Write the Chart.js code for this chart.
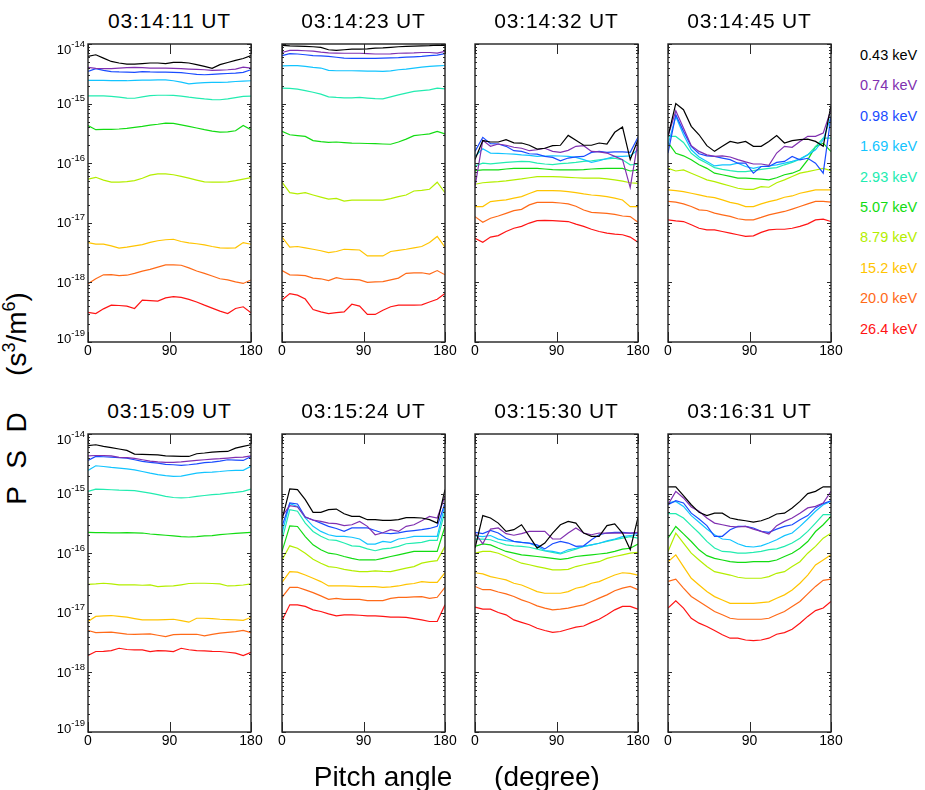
<!DOCTYPE html>
<html>
<head>
<meta charset="utf-8">
<script src="https://cdn.jsdelivr.net/npm/chart.js@4/dist/chart.umd.min.js"></script>
<style>
  body { margin: 0; background: #fff; width: 925px; height: 790px; position: relative; overflow: hidden;
         font-family: "Liberation Sans", Arial, Helvetica, sans-serif; color: #000; }
  canvas { position: absolute; }
  .ttl { position: absolute; font-size: 21px; letter-spacing: 0.8px; transform: translate(-50%, -50%); white-space: nowrap; }
  .leg { position: absolute; font-size: 14.5px; transform: translateY(-50%); white-space: nowrap; }
  .ax { position: absolute; font-size: 28px; line-height: 28px; white-space: nowrap; transform: translate(-50%, -50%); }
  .rot { transform: translate(-50%, -50%) rotate(-90deg); }
  .sup { font-size: 18px; position: relative; top: -11px; }
</style>
</head>
<body>
<script>
// pitch angle bins (deg)
const angles = [0, 8.6, 17.1, 25.7, 34.3, 42.9, 51.4, 60, 68.6, 77.1, 85.7, 94.3, 102.9, 111.4, 120, 128.6, 137.1, 145.7, 154.3, 162.9, 171.4, 180];
const energies = ['0.43 keV', '0.74 keV', '0.98 keV', '1.69 keV', '2.93 keV', '5.07 keV', '8.79 keV', '15.2 keV', '20.0 keV', '26.4 keV'];
const lineColors = ['#000000', '#8030b0', '#1a4cff', '#12c4ff', '#22ecb0', '#12dc12', '#b4ee00', '#ffc400', '#ff6a18', '#ff1414'];
const times = ['03:14:11 UT', '03:14:23 UT', '03:14:32 UT', '03:14:45 UT', '03:15:09 UT', '03:15:24 UT', '03:15:30 UT', '03:16:31 UT'];
const xTickVals = [0, 90, 180];
const yDecadeExps = [-19, -18, -17, -16, -15, -14];
const yMinorMults = [2, 3, 4, 5, 6, 7, 8, 9];

// PSD (s^3/m^6), one row per energy, one column per pitch angle
const psd_031411 = [
  [6.2e-15,6.6e-15,5.8e-15,5.1e-15,4.8e-15,4.6e-15,4.6e-15,4.7e-15,4.8e-15,4.8e-15,4.7e-15,4.9e-15,4.9e-15,4.8e-15,4.5e-15,4.2e-15,3.9e-15,4.5e-15,4.9e-15,5.3e-15,5.7e-15,6.4e-15],
  [4.05e-15,3.9e-15,3.85e-15,3.85e-15,3.95e-15,4.0e-15,4.05e-15,4.0e-15,3.95e-15,3.95e-15,3.95e-15,3.9e-15,3.85e-15,3.8e-15,3.75e-15,3.7e-15,3.6e-15,3.65e-15,3.7e-15,3.8e-15,4.1e-15,3.95e-15],
  [3.47e-15,3.85e-15,3.6e-15,3.45e-15,3.4e-15,3.38e-15,3.35e-15,3.45e-15,3.4e-15,3.38e-15,3.38e-15,3.34e-15,3.3e-15,3.2e-15,3.1e-15,3.05e-15,3.1e-15,3.16e-15,3.2e-15,3.25e-15,3.34e-15,3.7e-15],
  [2.45e-15,2.45e-15,2.45e-15,2.43e-15,2.42e-15,2.42e-15,2.45e-15,2.47e-15,2.48e-15,2.5e-15,2.5e-15,2.42e-15,2.3e-15,2.15e-15,2.2e-15,2.25e-15,2.27e-15,2.27e-15,2.3e-15,2.35e-15,2.38e-15,2.42e-15],
  [1.35e-15,1.35e-15,1.35e-15,1.32e-15,1.28e-15,1.24e-15,1.23e-15,1.3e-15,1.36e-15,1.38e-15,1.38e-15,1.37e-15,1.33e-15,1.28e-15,1.24e-15,1.2e-15,1.17e-15,1.16e-15,1.2e-15,1.26e-15,1.32e-15,1.33e-15],
  [4.3e-16,3.65e-16,3.7e-16,3.7e-16,3.75e-16,3.85e-16,4.0e-16,4.15e-16,4.35e-16,4.5e-16,4.7e-16,4.65e-16,4.4e-16,4.15e-16,3.9e-16,3.65e-16,3.45e-16,3.33e-16,3.35e-16,3.5e-16,4.3e-16,3.65e-16],
  [5.4e-17,5.8e-17,5.2e-17,4.8e-17,4.8e-17,4.9e-17,5.1e-17,5.6e-17,6.3e-17,6.6e-17,6.6e-17,6.4e-17,6.0e-17,5.6e-17,5.2e-17,4.85e-17,4.8e-17,4.8e-17,4.85e-17,5.1e-17,5.4e-17,5.75e-17],
  [4.66e-18,4.4e-18,4.4e-18,4.1e-18,3.75e-18,3.9e-18,4.1e-18,4.3e-18,4.7e-18,5.0e-18,5.2e-18,5.3e-18,4.85e-18,4.6e-18,4.45e-18,4.25e-18,4.0e-18,3.8e-18,3.75e-18,3.8e-18,4.66e-18,4.36e-18],
  [9.5e-19,1.15e-18,1.34e-18,1.35e-18,1.3e-18,1.32e-18,1.42e-18,1.55e-18,1.65e-18,1.8e-18,1.97e-18,1.97e-18,1.94e-18,1.75e-18,1.55e-18,1.42e-18,1.28e-18,1.15e-18,1.1e-18,1.02e-18,9.6e-19,1.1e-18],
  [3.13e-19,3.0e-19,3.6e-19,4.15e-19,4.1e-19,4.0e-19,3.65e-19,5.05e-19,4.95e-19,4.85e-19,5.5e-19,5.75e-19,5.6e-19,5.2e-19,4.7e-19,4.15e-19,3.7e-19,3.3e-19,3.0e-19,3.65e-19,3.9e-19,3.1e-19]
];
const psd_031423 = [
  [9.5e-15,9.3e-15,9.2e-15,9.1e-15,9.0e-15,8.8e-15,8.0e-15,7.8e-15,8.0e-15,8.2e-15,8.2e-15,8.3e-15,8.5e-15,8.6e-15,8.8e-15,9.0e-15,9.1e-15,9.2e-15,9.3e-15,9.4e-15,9.6e-15,9.5e-15],
  [7.2e-15,7.8e-15,7.8e-15,7.7e-15,7.6e-15,7.3e-15,7.1e-15,7.05e-15,7.0e-15,7.0e-15,7.0e-15,6.9e-15,6.8e-15,6.8e-15,6.85e-15,7.0e-15,7.05e-15,7.1e-15,7.2e-15,7.2e-15,7.05e-15,7.5e-15],
  [6.4e-15,6.9e-15,6.8e-15,6.6e-15,6.4e-15,6.3e-15,6.2e-15,6.0e-15,5.8e-15,5.75e-15,5.75e-15,5.75e-15,5.75e-15,5.8e-15,5.85e-15,5.9e-15,6.0e-15,6.1e-15,6.2e-15,6.4e-15,6.5e-15,6.9e-15],
  [4.3e-15,4.35e-15,4.35e-15,4.2e-15,4.05e-15,3.95e-15,3.6e-15,3.56e-15,3.56e-15,3.56e-15,3.55e-15,3.5e-15,3.5e-15,3.47e-15,3.55e-15,3.7e-15,3.8e-15,3.95e-15,4.1e-15,4.2e-15,4.3e-15,4.36e-15],
  [1.82e-15,1.8e-15,1.75e-15,1.65e-15,1.55e-15,1.44e-15,1.3e-15,1.27e-15,1.25e-15,1.25e-15,1.27e-15,1.24e-15,1.21e-15,1.2e-15,1.3e-15,1.4e-15,1.5e-15,1.6e-15,1.65e-15,1.7e-15,1.82e-15,1.77e-15],
  [3.42e-16,3.0e-16,2.9e-16,2.82e-16,2.39e-16,2.3e-16,2.24e-16,2.27e-16,2.22e-16,2.18e-16,2.16e-16,2.14e-16,2.13e-16,2.1e-16,2.08e-16,2.27e-16,2.54e-16,2.9e-16,3.0e-16,3.1e-16,3.42e-16,3.1e-16],
  [4.8e-17,3.2e-17,3.05e-17,3.2e-17,2.93e-17,2.7e-17,2.5e-17,2.57e-17,2.32e-17,2.4e-17,2.4e-17,2.4e-17,2.4e-17,2.4e-17,2.55e-17,2.75e-17,2.93e-17,3.42e-17,3.5e-17,3.65e-17,4.8e-17,3.2e-17],
  [5.75e-18,3.9e-18,4.0e-18,3.8e-18,3.6e-18,3.4e-18,3.16e-18,3.3e-18,3.6e-18,3.55e-18,3.5e-18,2.78e-18,2.78e-18,2.78e-18,3.3e-18,3.45e-18,3.6e-18,3.8e-18,4.0e-18,4.66e-18,5.9e-18,3.9e-18],
  [1.58e-18,1.34e-18,1.32e-18,1.3e-18,1.18e-18,1.15e-18,1.07e-18,1.2e-18,1.13e-18,1.12e-18,1.1e-18,1.0e-18,1.02e-18,1.03e-18,1.1e-18,1.18e-18,1.42e-18,1.45e-18,1.45e-18,1.38e-18,1.58e-18,1.34e-18],
  [5.05e-19,6.5e-19,6.1e-19,5.25e-19,3.5e-19,3.2e-19,3.0e-19,3.1e-19,3.2e-19,4.3e-19,4.0e-19,2.9e-19,2.9e-19,3.42e-19,3.9e-19,4.15e-19,4.15e-19,4.15e-19,4.2e-19,4.7e-19,5.2e-19,6.5e-19]
];
const psd_031432 = [
  [1.15e-16,2.4e-16,2.27e-16,2.27e-16,2.48e-16,2.2e-16,2.18e-16,2.0e-16,1.73e-16,1.78e-16,1.97e-16,2.0e-16,2.93e-16,2.42e-16,2.0e-16,2.0e-16,2.18e-16,2.1e-16,3.3e-16,4.05e-16,1.15e-16,2.48e-16],
  [4.05e-17,2.42e-16,1.92e-16,2.1e-16,2.0e-16,1.85e-16,1.78e-16,1.62e-16,1.68e-16,1.78e-16,1.58e-16,1.52e-16,1.64e-16,1.92e-16,1.97e-16,1.58e-16,1.55e-16,1.48e-16,1.3e-16,1.15e-16,3.9e-17,2.32e-16],
  [1.58e-16,2.72e-16,2.13e-16,2.1e-16,1.92e-16,1.62e-16,1.58e-16,1.44e-16,1.42e-16,1.3e-16,1.25e-16,1.1e-16,1.22e-16,1.28e-16,1.3e-16,1.52e-16,1.58e-16,1.52e-16,1.55e-16,1.55e-16,1.52e-16,2.72e-16],
  [1.3e-16,1.75e-16,1.48e-16,1.46e-16,1.44e-16,1.42e-16,1.38e-16,1.35e-16,1.3e-16,1.32e-16,1.33e-16,1.32e-16,1.3e-16,1.25e-16,1.15e-16,1.03e-16,1.1e-16,1.2e-16,1.3e-16,1.3e-16,1.33e-16,1.68e-16],
  [9.0e-17,1.0e-16,9.75e-17,1.0e-16,1.03e-16,1.05e-16,1.07e-16,1.06e-16,1.0e-16,9.7e-17,9.5e-17,9.8e-17,1.0e-16,1.03e-16,1.07e-16,1.1e-16,1.14e-16,1.18e-16,1.21e-16,1.14e-16,9.4e-17,9.6e-17],
  [7.5e-17,7.7e-17,7.7e-17,7.7e-17,8.0e-17,8.2e-17,8.2e-17,8.2e-17,8.2e-17,8.0e-17,7.8e-17,7.7e-17,7.7e-17,7.7e-17,7.8e-17,8.0e-17,8.1e-17,8.2e-17,8.2e-17,8.2e-17,7.4e-17,7.7e-17],
  [4.43e-17,4.7e-17,4.8e-17,4.9e-17,5.05e-17,5.25e-17,5.45e-17,5.7e-17,5.97e-17,5.97e-17,5.97e-17,5.9e-17,5.8e-17,5.7e-17,5.6e-17,5.6e-17,5.6e-17,5.45e-17,5.25e-17,5.0e-17,4.7e-17,4.6e-17],
  [1.87e-17,1.87e-17,2.27e-17,2.35e-17,2.42e-17,2.6e-17,2.75e-17,3.1e-17,3.47e-17,3.47e-17,3.47e-17,3.42e-17,3.34e-17,3.2e-17,3.05e-17,2.93e-17,2.85e-17,2.75e-17,2.6e-17,2.42e-17,1.87e-17,1.87e-17],
  [1.27e-17,1.02e-17,1.19e-17,1.3e-17,1.44e-17,1.6e-17,1.68e-17,2.0e-17,2.2e-17,2.2e-17,2.2e-17,2.15e-17,2.08e-17,1.9e-17,1.64e-17,1.5e-17,1.47e-17,1.44e-17,1.38e-17,1.3e-17,1.27e-17,1.02e-17],
  [5.5e-18,4.7e-18,5.75e-18,6.1e-18,7.15e-18,8.1e-18,8.7e-18,9.9e-18,1.09e-17,1.1e-17,1.09e-17,1.07e-17,1.05e-17,9.5e-18,8.7e-18,7.8e-18,7.15e-18,6.7e-18,6.45e-18,6.3e-18,5.75e-18,4.7e-18]
];
const psd_031445 = [
  [2.82e-16,1.0e-15,7.9e-16,4.15e-16,3.0e-16,1.97e-16,1.58e-16,1.92e-16,2.32e-16,2.18e-16,2.32e-16,1.92e-16,1.92e-16,2.32e-16,2.9e-16,2.18e-16,2.39e-16,2.48e-16,2.54e-16,2.32e-16,1.92e-16,9.3e-16],
  [2.82e-16,7.6e-16,3.9e-16,1.97e-16,1.58e-16,1.38e-16,1.3e-16,1.33e-16,1.27e-16,1.15e-16,1.05e-16,9.7e-17,9.7e-17,9.2e-17,1.48e-16,1.92e-16,1.85e-16,2.32e-16,2.82e-16,2.82e-16,3.2e-16,7.9e-16],
  [1.48e-16,6.5e-16,3.42e-16,1.92e-16,1.44e-16,1.33e-16,1.3e-16,1.22e-16,1.15e-16,1.0e-16,1.0e-16,6.8e-17,8.8e-17,8.8e-17,1.03e-16,1.07e-16,1.3e-16,1.14e-16,1.21e-16,1.0e-16,6.8e-17,6.1e-16],
  [2.04e-16,6.1e-16,3.0e-16,1.68e-16,1.27e-16,1.07e-16,9.0e-17,9.4e-17,9.4e-17,1.0e-16,8.8e-17,8.2e-17,8.8e-17,9.0e-17,9.4e-17,1.0e-16,1.07e-16,1.17e-16,1.38e-16,1.68e-16,2.47e-16,6.1e-16],
  [2.81e-16,2.81e-16,2.23e-16,1.47e-16,1.17e-16,1.0e-16,8.45e-17,7.9e-17,7.5e-17,7.2e-17,7.2e-17,7.5e-17,7.9e-17,8.2e-17,8.45e-17,9.4e-17,1.03e-16,1.17e-16,1.38e-16,1.9e-16,2.63e-16,2.63e-16],
  [2.23e-16,1.47e-16,1.33e-16,1.14e-16,9.4e-17,8.2e-17,6.8e-17,6.4e-17,6.0e-17,5.6e-17,5.6e-17,5.5e-17,5.4e-17,5.25e-17,5.7e-17,6.4e-17,6.8e-17,7.7e-17,1.14e-16,1.9e-16,2.17e-16,1.57e-16],
  [8.2e-17,7.4e-17,7.7e-17,6.8e-17,5.97e-17,5.25e-17,4.9e-17,4.5e-17,4.15e-17,3.8e-17,3.65e-17,3.65e-17,4.05e-17,3.95e-17,4.7e-17,5.25e-17,5.97e-17,6.8e-17,7.2e-17,7.7e-17,8.2e-17,7.5e-17],
  [3.56e-17,3.47e-17,3.34e-17,3.13e-17,2.95e-17,2.75e-17,2.65e-17,2.42e-17,2.2e-17,2.08e-17,1.87e-17,1.87e-17,2.08e-17,2.27e-17,2.42e-17,2.68e-17,2.82e-17,3.13e-17,3.34e-17,3.56e-17,3.56e-17,3.56e-17],
  [2.28e-17,2.23e-17,2.08e-17,1.88e-17,1.65e-17,1.61e-17,1.45e-17,1.36e-17,1.28e-17,1.17e-17,1.12e-17,1.12e-17,1.23e-17,1.36e-17,1.45e-17,1.55e-17,1.7e-17,1.88e-17,2.08e-17,2.28e-17,2.28e-17,2.23e-17],
  [1.12e-17,1.08e-17,1.05e-17,9.25e-18,8.1e-18,7.6e-18,7.6e-18,7.15e-18,6.7e-18,6.3e-18,5.9e-18,6.05e-18,6.9e-18,7.6e-18,7.8e-18,7.8e-18,8.1e-18,8.7e-18,9.6e-18,1.12e-17,1.15e-17,1.05e-17]
];
const psd_031509 = [
  [6.4e-15,6.6e-15,6.2e-15,5.9e-15,5.6e-15,5.3e-15,4.6e-15,4.55e-15,4.5e-15,4.45e-15,4.3e-15,4.25e-15,4.2e-15,4.2e-15,4.66e-15,4.8e-15,4.98e-15,5.05e-15,5.1e-15,5.8e-15,6.2e-15,6.6e-15],
  [4.3e-15,4.36e-15,4.36e-15,4.3e-15,4.05e-15,4.0e-15,3.9e-15,3.7e-15,3.5e-15,3.4e-15,3.34e-15,3.34e-15,3.4e-15,3.5e-15,3.6e-15,3.7e-15,3.8e-15,3.85e-15,3.95e-15,4.05e-15,4.1e-15,4.3e-15],
  [3.6e-15,4.2e-15,4.15e-15,4.1e-15,4.0e-15,3.95e-15,3.7e-15,3.47e-15,3.35e-15,3.25e-15,3.1e-15,3.05e-15,2.97e-15,3.05e-15,3.16e-15,3.3e-15,3.38e-15,3.5e-15,3.7e-15,3.65e-15,3.6e-15,4.2e-15],
  [2.45e-15,2.93e-15,2.85e-15,2.75e-15,2.68e-15,2.6e-15,2.5e-15,2.35e-15,2.2e-15,2.08e-15,2.0e-15,1.94e-15,1.97e-15,2.08e-15,2.2e-15,2.27e-15,2.3e-15,2.35e-15,2.42e-15,2.45e-15,2.45e-15,2.86e-15],
  [1.09e-15,1.19e-15,1.18e-15,1.16e-15,1.14e-15,1.13e-15,1.12e-15,1.07e-15,1.02e-15,9.6e-16,9.0e-16,8.6e-16,8.45e-16,8.6e-16,9.0e-16,9.3e-16,9.6e-16,9.8e-16,1.02e-15,1.05e-15,1.09e-15,1.19e-15],
  [2.24e-16,2.22e-16,2.22e-16,2.2e-16,2.2e-16,2.22e-16,2.2e-16,2.18e-16,2.1e-16,2.05e-16,2.0e-16,1.95e-16,1.9e-16,1.87e-16,1.9e-16,1.95e-16,1.97e-16,2.05e-16,2.1e-16,2.15e-16,2.2e-16,2.24e-16],
  [3.0e-17,3.05e-17,3.13e-17,3.05e-17,2.95e-17,2.93e-17,2.93e-17,2.9e-17,2.93e-17,2.75e-17,2.8e-17,2.82e-17,2.95e-17,3.1e-17,3.13e-17,3.13e-17,3.1e-17,3.05e-17,2.82e-17,2.85e-17,2.93e-17,3.05e-17],
  [7.15e-18,8.7e-18,8.9e-18,9.0e-18,8.7e-18,8.45e-18,8.0e-18,7.6e-18,7.6e-18,7.6e-18,7.7e-18,7.8e-18,7.4e-18,6.96e-18,8.1e-18,8.1e-18,8.0e-18,7.8e-18,7.7e-18,7.6e-18,7.45e-18,8.35e-18],
  [5.05e-18,4.66e-18,4.7e-18,4.73e-18,4.55e-18,4.4e-18,4.36e-18,4.4e-18,4.43e-18,4.2e-18,4.0e-18,4.3e-18,4.36e-18,4.36e-18,4.36e-18,4.1e-18,4.35e-18,4.55e-18,4.7e-18,4.85e-18,5.05e-18,4.66e-18],
  [1.92e-18,2.24e-18,2.26e-18,2.32e-18,2.54e-18,2.42e-18,2.39e-18,2.39e-18,2.24e-18,2.32e-18,2.3e-18,2.24e-18,2.54e-18,2.4e-18,2.32e-18,2.3e-18,2.26e-18,2.24e-18,2.18e-18,2.1e-18,1.92e-18,2.18e-18]
];
const psd_031524 = [
  [3.65e-16,1.2e-15,1.17e-15,7.9e-16,4.85e-16,4.85e-16,5.37e-16,5.5e-16,4.6e-16,4.15e-16,4.15e-16,3.65e-16,3.65e-16,3.56e-16,3.56e-16,3.65e-16,3.95e-16,3.95e-16,3.9e-16,3.65e-16,3.2e-16,1.17e-15],
  [4.15e-16,6.3e-16,5.97e-16,4.05e-16,3.6e-16,3.42e-16,3.2e-16,3.13e-16,2.9e-16,3.0e-16,3.42e-16,2.82e-16,2.04e-16,2.2e-16,2.48e-16,2.32e-16,2.82e-16,3.0e-16,3.5e-16,4.15e-16,3.9e-16,9.0e-16],
  [2.82e-16,6.96e-16,6.7e-16,4.05e-16,3.6e-16,3.2e-16,2.82e-16,2.6e-16,2.32e-16,2.65e-16,2.65e-16,2.65e-16,2.4e-16,2.18e-16,2.13e-16,2.2e-16,2.32e-16,2.4e-16,2.48e-16,2.6e-16,2.82e-16,6.96e-16],
  [2.18e-16,6.8e-16,6.1e-16,3.9e-16,2.82e-16,2.32e-16,2.04e-16,1.92e-16,1.92e-16,1.85e-16,1.73e-16,1.42e-16,1.42e-16,1.58e-16,1.52e-16,1.73e-16,1.8e-16,1.92e-16,1.92e-16,1.92e-16,1.92e-16,6.5e-16],
  [1.68e-16,5.37e-16,5.05e-16,3.2e-16,2.32e-16,1.92e-16,1.68e-16,1.64e-16,1.48e-16,1.33e-16,1.3e-16,1.18e-16,1.1e-16,1.18e-16,1.22e-16,1.3e-16,1.44e-16,1.48e-16,1.52e-16,1.64e-16,1.64e-16,5.05e-16],
  [1.07e-16,2.88e-16,2.81e-16,1.9e-16,1.38e-16,1.14e-16,1.0e-16,9.6e-17,8.8e-17,8.2e-17,7.7e-17,7.7e-17,7.7e-17,8.2e-17,8.8e-17,9.4e-17,1.0e-16,1.07e-16,1.07e-16,1.07e-16,1.07e-16,2.81e-16],
  [7.7e-17,1.33e-16,1.21e-16,1.0e-16,7.9e-17,6.8e-17,5.97e-17,5.75e-17,5.37e-17,5.1e-17,4.9e-17,4.9e-17,5.05e-17,4.95e-17,4.9e-17,5.25e-17,5.6e-17,5.97e-17,6.8e-17,7.2e-17,7.5e-17,1.3e-16],
  [3.25e-17,4.9e-17,4.8e-17,4.3e-17,3.8e-17,3.34e-17,2.82e-17,2.82e-17,2.82e-17,2.8e-17,2.75e-17,2.75e-17,2.75e-17,2.68e-17,2.72e-17,2.82e-17,3.0e-17,3.1e-17,3.34e-17,3.25e-17,3.25e-17,4.7e-17],
  [1.82e-17,2.68e-17,2.68e-17,2.42e-17,2.18e-17,1.92e-17,1.68e-17,1.75e-17,1.68e-17,1.68e-17,1.68e-17,1.6e-17,1.6e-17,1.6e-17,1.75e-17,1.82e-17,1.82e-17,1.85e-17,1.87e-17,1.75e-17,1.82e-17,2.68e-17],
  [7.4e-18,1.36e-17,1.36e-17,1.28e-17,1.12e-17,1.05e-17,9.6e-18,8.9e-18,9.25e-18,9.25e-18,9.1e-18,8.9e-18,8.9e-18,8.7e-18,8.45e-18,8.45e-18,8.35e-18,8.0e-18,7.6e-18,7.15e-18,7.15e-18,1.36e-17]
];
const psd_031530 = [
  [1.22e-16,4.27e-16,3.9e-16,3.2e-16,2.32e-16,2.48e-16,3.0e-16,1.92e-16,1.22e-16,1.48e-16,2.18e-16,3.0e-16,3.42e-16,3.2e-16,2.18e-16,1.92e-16,1.92e-16,2.9e-16,3.1e-16,2.18e-16,1.15e-16,4.0e-16],
  [2.18e-16,1.44e-16,2.54e-16,2.65e-16,2.13e-16,2.0e-16,2.13e-16,2.32e-16,2.32e-16,2.32e-16,1.73e-16,1.73e-16,2.18e-16,2.65e-16,2.18e-16,2.04e-16,2.18e-16,2.18e-16,2.18e-16,2.18e-16,2.18e-16,2.24e-16],
  [2.24e-16,2.13e-16,2.42e-16,2.18e-16,1.78e-16,1.58e-16,1.52e-16,1.48e-16,1.38e-16,1.18e-16,1.44e-16,1.58e-16,1.48e-16,1.3e-16,1.33e-16,1.68e-16,2.04e-16,2.18e-16,2.24e-16,2.24e-16,2.18e-16,2.18e-16],
  [1.96e-16,1.9e-16,1.98e-16,1.72e-16,1.63e-16,1.57e-16,1.52e-16,1.47e-16,1.3e-16,1.11e-16,1.07e-16,1.0e-16,1.14e-16,1.21e-16,1.3e-16,1.38e-16,1.47e-16,1.61e-16,1.72e-16,1.9e-16,1.98e-16,2.03e-16],
  [1.72e-16,1.72e-16,1.68e-16,1.51e-16,1.38e-16,1.33e-16,1.3e-16,1.26e-16,1.17e-16,1.09e-16,1.03e-16,9.7e-17,1.07e-16,1.17e-16,1.3e-16,1.38e-16,1.47e-16,1.57e-16,1.68e-16,1.79e-16,1.9e-16,1.79e-16],
  [1.3e-16,1.43e-16,1.38e-16,1.21e-16,1.07e-16,1.0e-16,9.4e-17,9.1e-17,8.8e-17,8.5e-17,8.2e-17,7.9e-17,8.2e-17,8.8e-17,9.1e-17,9.4e-17,9.7e-17,1.0e-16,1.07e-16,1.17e-16,1.21e-16,1.43e-16],
  [1.0e-16,1.07e-16,1.07e-16,1.0e-16,8.8e-17,7.7e-17,6.8e-17,6.4e-17,5.97e-17,5.6e-17,5.25e-17,5.25e-17,5.37e-17,5.97e-17,6.4e-17,6.8e-17,7.2e-17,8.2e-17,8.8e-17,9.4e-17,1.0e-16,1.03e-16],
  [4.7e-17,4.5e-17,4.05e-17,3.8e-17,3.56e-17,3.13e-17,2.93e-17,2.58e-17,2.27e-17,2.13e-17,2.13e-17,2.13e-17,2.27e-17,2.58e-17,2.75e-17,3.13e-17,3.34e-17,3.8e-17,4.3e-17,4.7e-17,4.6e-17,4.3e-17],
  [2.77e-17,2.44e-17,2.44e-17,2.23e-17,2.08e-17,1.88e-17,1.65e-17,1.49e-17,1.31e-17,1.2e-17,1.12e-17,1.15e-17,1.2e-17,1.28e-17,1.36e-17,1.55e-17,1.76e-17,2.0e-17,2.34e-17,2.6e-17,2.77e-17,2.44e-17],
  [1.25e-17,1.15e-17,1.15e-17,1.01e-17,9.25e-18,7.6e-18,6.9e-18,6.3e-18,5.5e-18,5.05e-18,4.7e-18,4.85e-18,5.3e-18,5.75e-18,6.0e-18,6.9e-18,7.8e-18,9.25e-18,1.12e-17,1.28e-17,1.28e-17,1.15e-17]
];
const psd_031631 = [
  [1.3e-15,1.3e-15,9.25e-16,6.5e-16,4.85e-16,4.27e-16,4.7e-16,4.7e-16,3.9e-16,3.65e-16,3.5e-16,3.33e-16,3.5e-16,3.9e-16,4.55e-16,4.7e-16,5.75e-16,7.4e-16,1.0e-15,1.09e-15,1.3e-15,1.3e-15],
  [6.5e-16,1.09e-15,8.45e-16,5.97e-16,5.05e-16,3.9e-16,3.2e-16,3.0e-16,2.82e-16,2.75e-16,2.82e-16,2.54e-16,2.32e-16,2.1e-16,2.9e-16,3.42e-16,3.9e-16,4.7e-16,5.75e-16,6.1e-16,6.96e-16,1.09e-15],
  [6.5e-16,7.6e-16,6.96e-16,4.7e-16,3.75e-16,2.9e-16,1.92e-16,1.92e-16,2.48e-16,2.82e-16,2.82e-16,2.65e-16,2.32e-16,2.24e-16,2.54e-16,2.82e-16,3.0e-16,3.65e-16,4.27e-16,5.75e-16,6.8e-16,7.6e-16],
  [6.96e-16,7.4e-16,6.1e-16,4.27e-16,3.3e-16,2.54e-16,2.04e-16,1.73e-16,1.68e-16,1.44e-16,1.3e-16,1.27e-16,1.33e-16,1.48e-16,1.68e-16,1.97e-16,2.18e-16,2.82e-16,3.75e-16,5.05e-16,6.5e-16,7.4e-16],
  [4.6e-16,4.6e-16,3.9e-16,2.9e-16,2.18e-16,1.58e-16,1.22e-16,1.07e-16,1.05e-16,1.0e-16,1.0e-16,1.03e-16,1.07e-16,1.15e-16,1.18e-16,1.3e-16,1.48e-16,1.78e-16,2.32e-16,3.2e-16,4.43e-16,4.43e-16],
  [1.79e-16,2.81e-16,2.11e-16,1.57e-16,1.14e-16,9.1e-17,8.2e-17,7.7e-17,7.2e-17,7.0e-17,7.0e-17,7.2e-17,7.2e-17,7.2e-17,7.7e-17,8.8e-17,1.0e-16,1.21e-16,1.57e-16,2.31e-16,3.0e-16,4.14e-16],
  [1.07e-16,2.17e-16,1.47e-16,1.0e-16,7.7e-17,5.97e-17,4.9e-17,4.6e-17,4.3e-17,3.95e-17,3.8e-17,3.8e-17,3.8e-17,4.05e-17,4.6e-17,4.9e-17,5.97e-17,7.2e-17,1.0e-16,1.3e-16,1.79e-16,2.17e-16],
  [7.2e-17,9.4e-17,5.97e-17,3.8e-17,2.93e-17,2.27e-17,1.87e-17,1.64e-17,1.44e-17,1.44e-17,1.44e-17,1.44e-17,1.48e-17,1.53e-17,1.75e-17,2.0e-17,2.42e-17,3.13e-17,4.3e-17,6.36e-17,7.7e-17,9.4e-17],
  [3.37e-17,3.68e-17,2.6e-17,1.88e-17,1.55e-17,1.28e-17,1.05e-17,9.25e-18,8.1e-18,7.8e-18,7.8e-18,7.8e-18,7.8e-18,8.1e-18,9.25e-18,1.05e-17,1.28e-17,1.55e-17,2.08e-17,2.77e-17,3.5e-17,3.68e-17],
  [1.2e-17,1.59e-17,1.2e-17,8.1e-18,6.7e-18,5.9e-18,5.05e-18,4.27e-18,3.75e-18,3.75e-18,3.5e-18,3.42e-18,3.5e-18,3.75e-18,4.36e-18,4.66e-18,5.3e-18,6.7e-18,8.7e-18,1.09e-17,1.2e-17,1.55e-17]
];
const panels = [psd_031411, psd_031423, psd_031432, psd_031445, psd_031509, psd_031524, psd_031530, psd_031631];

// page layout
const PLOT_W = 163, PLOT_H = 298;
const colLeft = [88, 282, 475, 668];
const rowTop = [44, 434];
const titleY = [21, 411];
const PAD = { left: 42, right: 18, top: 8, bottom: 26 };

function addDiv(cls, html, left, top, extra) {
  const d = document.createElement('div');
  d.className = cls;
  d.innerHTML = html;
  d.style.left = left + 'px';
  d.style.top = top + 'px';
  if (extra) Object.assign(d.style, extra);
  document.body.appendChild(d);
  return d;
}

// axis box, inward ticks and tick labels
const framePlugin = {
  id: 'frame',
  afterDatasetsDraw(chart, args, opts) {
    const { ctx, chartArea: a, scales: { x, y } } = chart;
    ctx.save();
    ctx.strokeStyle = '#2a2a2a';
    ctx.lineWidth = 1;
    ctx.beginPath();
    xTickVals.forEach(v => {
      const px = Math.round(x.getPixelForValue(v)) + 0.5;
      ctx.moveTo(px, a.top); ctx.lineTo(px, a.top + 10);
      ctx.moveTo(px, a.bottom); ctx.lineTo(px, a.bottom - 10);
    });
    yDecadeExps.forEach(e => {
      const py = Math.round(y.getPixelForValue(Math.pow(10, e))) + 0.5;
      ctx.moveTo(a.left, py); ctx.lineTo(a.left + 4, py);
      ctx.moveTo(a.right, py); ctx.lineTo(a.right - 4, py);
      if (e < yDecadeExps[yDecadeExps.length - 1]) {
        yMinorMults.forEach(m => {
          const pm = Math.round(y.getPixelForValue(m * Math.pow(10, e))) + 0.5;
          ctx.moveTo(a.left, pm); ctx.lineTo(a.left + 2, pm);
          ctx.moveTo(a.right, pm); ctx.lineTo(a.right - 2, pm);
        });
      }
    });
    ctx.stroke();
    ctx.lineWidth = 1.4;
    ctx.strokeStyle = '#222';
    ctx.strokeRect(a.left, a.top, a.right - a.left, a.bottom - a.top);

    ctx.fillStyle = '#000';
    ctx.textAlign = 'center';
    ctx.textBaseline = 'middle';
    ctx.font = '14px "Liberation Sans", Arial, sans-serif';
    xTickVals.forEach(v => ctx.fillText(String(v), x.getPixelForValue(v), a.bottom + 9));

    if (opts.yLabels) {
      const top = yDecadeExps[yDecadeExps.length - 1], bot = yDecadeExps[0];
      yDecadeExps.forEach(e => {
        let py = y.getPixelForValue(Math.pow(10, e));
        if (e === top) py += 5;
        if (e === bot) py -= 4;
        ctx.textAlign = 'right';
        ctx.font = '9.5px "Liberation Sans", Arial, sans-serif';
        const ex = String(e);
        const exW = ctx.measureText(ex).width;
        ctx.fillText(ex, a.left - 3, py - 5);
        ctx.font = '13px "Liberation Sans", Arial, sans-serif';
        ctx.fillText('10', a.left - 3 - exW, py + 1);
      });
    }
    ctx.restore();
  }
};

panels.forEach((rows, p) => {
  const col = p % 4, row = Math.floor(p / 4);
  const cv = document.createElement('canvas');
  const w = PLOT_W + PAD.left + PAD.right, h = PLOT_H + PAD.top + PAD.bottom;
  cv.width = w; cv.height = h;
  cv.style.width = w + 'px'; cv.style.height = h + 'px';
  cv.style.left = (colLeft[col] - PAD.left) + 'px';
  cv.style.top = (rowTop[row] - PAD.top) + 'px';
  document.body.appendChild(cv);

  new Chart(cv.getContext('2d'), {
    type: 'line',
    data: {
      datasets: rows.map((vals, k) => ({
        label: energies[k],
        data: vals.map((v, i) => ({ x: angles[i], y: v })),
        borderColor: lineColors[k],
        borderWidth: 1.2,
        pointRadius: 0,
        tension: 0,
        fill: false
      }))
    },
    options: {
      responsive: false,
      animation: false,
      devicePixelRatio: 1,
      layout: { padding: PAD },
      scales: {
        x: { type: 'linear', min: 0, max: 180, display: false },
        y: { type: 'logarithmic', min: 1e-19, max: 1e-14, display: false }
      },
      plugins: {
        legend: { display: false },
        tooltip: { enabled: false },
        frame: { yLabels: col === 0 }
      }
    },
    plugins: [framePlugin]
  });

  addDiv('ttl', times[p], colLeft[col] + PLOT_W / 2, titleY[row]);
});

// energy legend
energies.forEach((t, k) => {
  addDiv('leg', t, 860, 55 + k * 30.4, { color: lineColors[k] });
});

// axis titles
addDiv('ax rot', 'P S D', 17, 456, { letterSpacing: '5px' });
addDiv('ax rot', '(s<span class="sup">3</span>/m<span class="sup">6</span>)', 18, 334);
addDiv('ax', 'Pitch angle', 383, 777);
addDiv('ax', '(degree)', 547, 777);
</script>
</body>
</html>
